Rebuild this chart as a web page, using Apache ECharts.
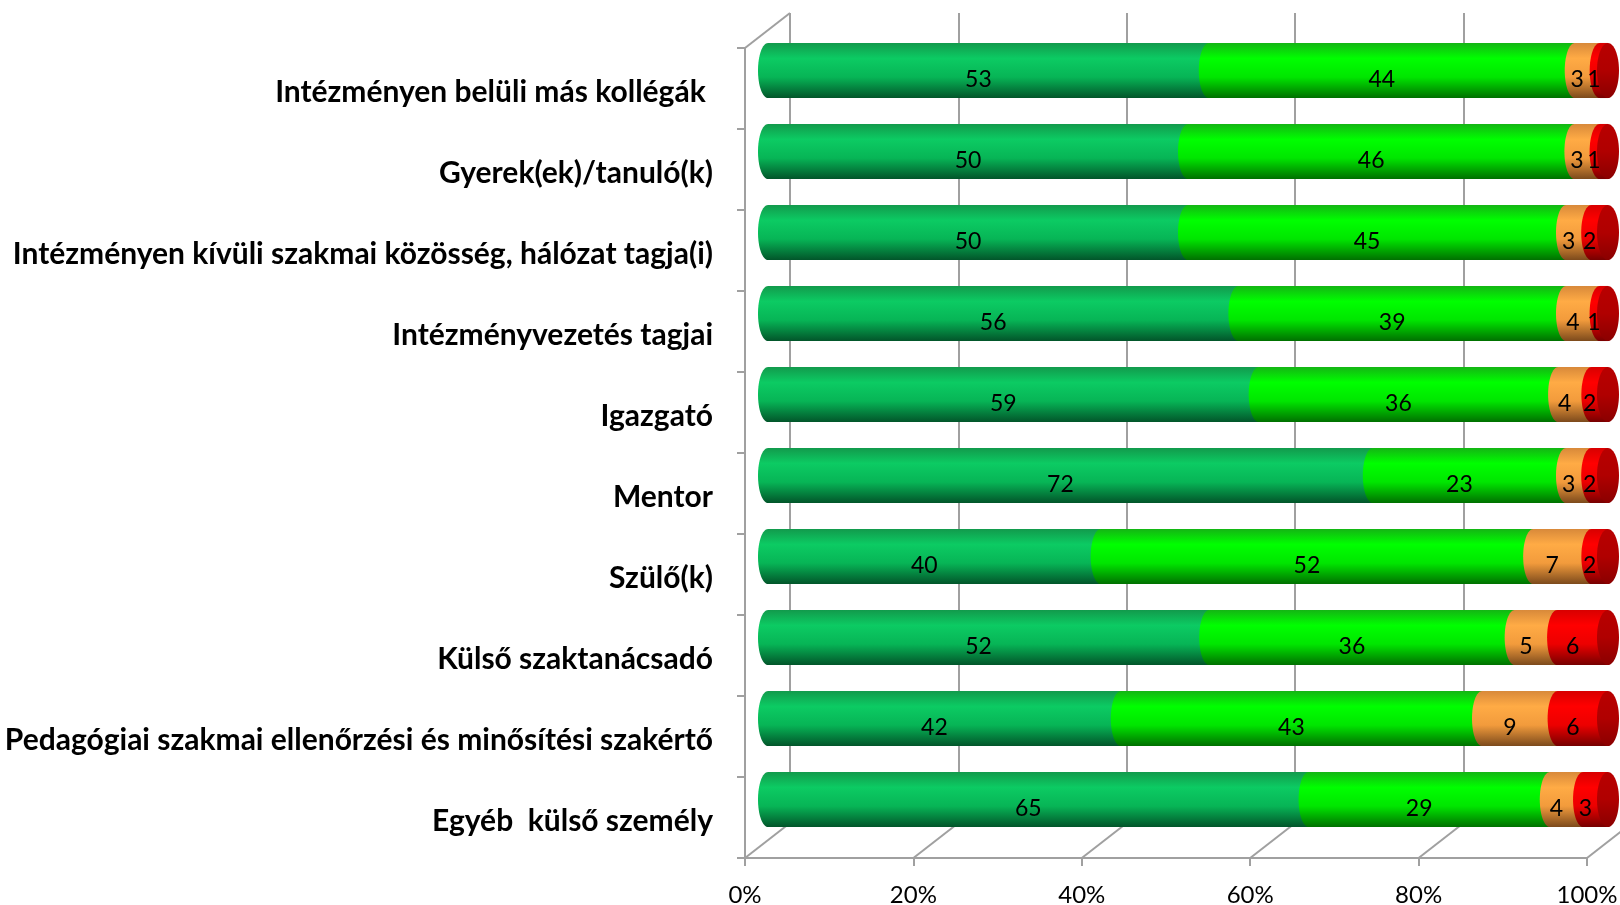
<!DOCTYPE html>
<html>
<head>
<meta charset="utf-8">
<script src="https://cdn.jsdelivr.net/npm/echarts@6/dist/echarts.min.js"></script>
<style>
html, body { margin: 0; padding: 0; background: #fff; }
#chart { width: 1620px; height: 905px; }
</style>
</head>
<body>
<div id="chart"></div>
<script>
var myChart = echarts.init(document.getElementById('chart'));

var categories = [
    'Intézményen belüli más kollégák ',
    'Gyerek(ek)/tanuló(k)',
    'Intézményen kívüli szakmai közösség, hálózat tagja(i)',
    'Intézményvezetés tagjai',
    'Igazgató',
    'Mentor',
    'Szülő(k)',
    'Külső szaktanácsadó',
    'Pedagógiai szakmai ellenőrzési és minősítési szakértő',
    'Egyéb  külső személy'
];
var darkGreen  = [53, 50, 50, 56, 59, 72, 40, 52, 42, 65];
var lightGreen = [44, 46, 45, 39, 36, 23, 52, 36, 43, 29];
var orange     = [3, 3, 3, 4, 4, 3, 7, 5, 9, 4];
var red        = [1, 1, 2, 1, 2, 2, 2, 6, 6, 3];
var xTicks = [0, 20, 40, 60, 80, 100];

var seriesValues = [darkGreen, lightGreen, orange, red];
var seriesNames = ['sötétzöld', 'világoszöld', 'narancs', 'piros'];
var seriesStops = [
    ['#129a4c', '#0ccb63', '#07b556', '#02552a'],
    ['#14b514', '#00ff00', '#00e600', '#007000'],
    ['#d8893a', '#ffab45', '#f29b3c', '#7c4a1c'],
    ['#d80000', '#ff0000', '#ec0000', '#760000']
];

// 100% stacked: start/end of each segment in percent of its row's total
var totals = categories.map(function (c, i) {
    return darkGreen[i] + lightGreen[i] + orange[i] + red[i];
});
var cum = categories.map(function () { return 0; });
var stacked = seriesValues.map(function (vals) {
    return vals.map(function (v, i) {
        var s = cum[i] / totals[i] * 100;
        cum[i] += v;
        return [s, cum[i] / totals[i] * 100, v, i];
    });
});

var DX = 45, DY = -35, RX = 10;
var gray = '#a0a0a0';

function grad(stops) {
    return new echarts.graphic.LinearGradient(0, 0, 0, 1, [
        { offset: 0, color: stops[0] },
        { offset: 0.28, color: stops[1] },
        { offset: 0.62, color: stops[2] },
        { offset: 1, color: stops[3] }
    ]);
}

function cylinder(k) {
    return function (params, api) {
        var row = api.value(3);
        var a = api.coord([api.value(0), row]);
        var b = api.coord([api.value(1), row]);
        var h = api.size([0, 1])[1] * 0.68;
        var fill = grad(seriesStops[k]);
        var children = [
            { type: 'rect', shape: { x: a[0], y: a[1] - h / 2, width: b[0] - a[0], height: h }, style: { fill: fill } },
            { type: 'ellipse', shape: { cx: a[0], cy: a[1], rx: RX, ry: h / 2 }, style: { fill: fill } }
        ];
        if (api.value(1) >= 99.999) {
            children.push({
                type: 'ellipse', shape: { cx: b[0], cy: b[1], rx: RX + 1, ry: h / 2 },
                style: { fill: new echarts.graphic.LinearGradient(0, 0, 0, 1, [
                    { offset: 0, color: '#b80000' }, { offset: 0.5, color: '#b00000' }, { offset: 1, color: '#8a0000' }
                ]) }
            });
        }
        children.push({
            type: 'text', z2: 100,
            style: {
                text: String(api.value(2)),
                x: (a[0] + b[0]) / 2 - RX, y: a[1] + 9,
                align: 'center', verticalAlign: 'middle',
                font: '23px Lato', fill: '#000'
            }
        });
        return { type: 'group', children: children };
    };
}

var series = stacked.map(function (data, k) {
    return {
        name: seriesNames[k],
        type: 'custom',
        xAxisIndex: 1,
        yAxisIndex: 1,
        z: 3,
        encode: { x: [0, 1], y: 3 },
        renderItem: cylinder(k),
        data: data
    };
});

// depth lines of the floor and left wall
series.unshift({
    type: 'custom',
    xAxisIndex: 2,
    yAxisIndex: 2,
    z: 1,
    encode: { x: 0, y: 1 },
    data: xTicks.map(function (v) { return [v, 0]; }),
    renderItem: function (params, api) {
        var cs = params.coordSys;
        var x = api.coord([api.value(0), 0])[0];
        var yb = cs.y + cs.height;
        var lineStyle = { stroke: gray, lineWidth: 2 };
        var children = [
            { type: 'line', shape: { x1: x, y1: yb, x2: x + DX, y2: yb + DY }, style: lineStyle }
        ];
        if (api.value(0) === 0) {
            children.push({ type: 'line', shape: { x1: x, y1: cs.y, x2: x + DX, y2: cs.y + DY }, style: lineStyle });
        }
        return { type: 'group', children: children };
    }
});

option = {
    animation: false,
    backgroundColor: '#fff',
    grid: [
        { left: 790, top: 13, width: 842, height: 810, containLabel: false, outerBoundsMode: 'none' },
        { left: 768, top: 30, width: 840, height: 810, containLabel: false, outerBoundsMode: 'none' },
        { left: 745, top: 48, width: 842, height: 810, containLabel: false, outerBoundsMode: 'none' }
    ],
    xAxis: [
        {
            gridIndex: 0, type: 'value', min: 0, max: 100, interval: 20,
            axisLine: { show: false }, axisTick: { show: false }, axisLabel: { show: false },
            splitLine: { show: true, showMinLine: true, showMaxLine: true, lineStyle: { color: gray, width: 2 } }
        },
        {
            gridIndex: 1, type: 'value', min: 0, max: 100, show: false
        },
        {
            gridIndex: 2, type: 'value', min: 0, max: 100, interval: 20,
            axisLine: { show: true, lineStyle: { color: gray, width: 2 } },
            axisTick: { show: true, length: 8, lineStyle: { color: gray, width: 2 } },
            axisLabel: { formatter: '{value}%', margin: 25, fontSize: 24, fontFamily: 'Lato', color: '#000' },
            splitLine: { show: false }
        }
    ],
    yAxis: [
        { gridIndex: 0, type: 'category', data: categories, inverse: true, show: false },
        { gridIndex: 1, type: 'category', data: categories, inverse: true, show: false },
        {
            gridIndex: 2, type: 'category', data: categories, inverse: true,
            axisLine: { show: true, lineStyle: { color: gray, width: 2 } },
            axisTick: { show: true, length: 8, lineStyle: { color: gray, width: 2 } },
            axisLabel: {
                margin: 32,
                formatter: '{lbl|{value}}',
                rich: {
                    lbl: { padding: [8, 0, 0, 0], fontSize: 30, fontWeight: 'bold', fontFamily: 'Lato', color: '#000' }
                }
            },
            splitLine: { show: false }
        }
    ],
    series: series
};

myChart.setOption(option);
</script>
</body>
</html>
